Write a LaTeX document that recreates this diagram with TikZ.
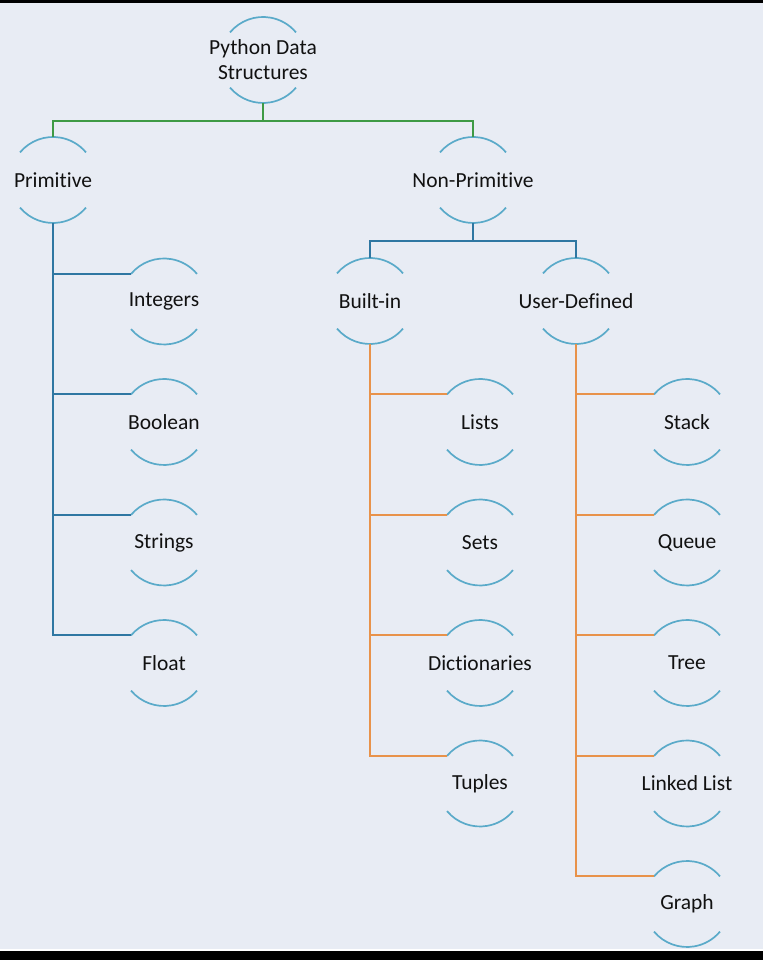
\documentclass[tikz,border=0pt]{standalone}
\usepackage{fontspec}
\setmainfont[Ligatures=NoCommon]{Carlito}
\usetikzlibrary{calc}
\definecolor{bgpanel}{HTML}{E8ECF4}
\definecolor{arcblue}{HTML}{5AAAC9}
\definecolor{linkgreen}{HTML}{3E9A45}
\definecolor{linkblue}{HTML}{2F77A2}
\definecolor{linkorange}{HTML}{E8924A}
\definecolor{labelink}{HTML}{111111}
\tikzset{
  item/.style={inner sep=0pt, text=labelink, font=\fontsize{21.5}{25}\selectfont, align=center},
  arcline/.style={draw=arcblue, line width=1.7pt},
  greenlink/.style={draw=linkgreen, line width=1.8pt},
  bluelink/.style={draw=linkblue, line width=1.8pt},
  orangelink/.style={draw=linkorange, line width=1.8pt},
}
\begin{document}
\begin{tikzpicture}[x=1pt,y=1pt]
% canvas with dark bands at top and bottom
\fill[bgpanel] (0,0) rectangle (763,960);
\fill[black] (0,957) rectangle (763,960);
\fill[white] (0,8.5) rectangle (763,10.5);
\fill[black] (0,0) rectangle (763,8.5);
\useasboundingbox (0,0) rectangle (763,960);

% labels
\node[item] (root) at (263,900) {Python Data\\Structures};
\node[item] (prim) at (53,780) {Primitive};
\node[item] (nonp) at (473,780) {Non-Primitive};
\node[item] (bltn) at (370,659) {Built-in};
\node[item] (user) at (576,659) {User-Defined};

\node[item] (int) at (164,658.5) {Integers};
\node[item] (bool) at (164,538) {Boolean};
\node[item] (str) at (164,417.5) {Strings};
\node[item] (flt) at (164,297) {Float};

\node[item] (lst) at (480,538) {Lists};
\node[item] (sets) at (480,417.5) {Sets};
\node[item] (dict) at (480,297) {Dictionaries};
\node[item] (tup) at (480,176.5) {Tuples};

\node[item] (stk) at (687,538) {Stack};
\node[item] (que) at (687,417.5) {Queue};
\node[item] (tree) at (687,297) {Tree};
\node[item] (llist) at (687,176.5) {Linked List};
\node[item] (grph) at (687,56) {Graph};

% bracket arcs above and below each label
\foreach \n in {root,prim,nonp,bltn,user,int,bool,str,flt,lst,sets,dict,tup,stk,que,tree,llist,grph}{
  \draw[arcline] ($(\n.center)+(140:43)$) arc[start angle=140,end angle=40,radius=43];
  \draw[arcline] ($(\n.center)+(220:43)$) arc[start angle=220,end angle=320,radius=43];
}

% root to the two categories
\coordinate (rootjoin) at ($(root.center)+(0,-61)$);
\draw[greenlink] ($(root.center)+(0,-43)$) -- (rootjoin);
\draw[greenlink] (rootjoin) -| ($(prim.center)+(0,43)$);
\draw[greenlink] (rootjoin) -| ($(nonp.center)+(0,43)$);

% non-primitive split
\coordinate (nonpjoin) at ($(nonp.center)+(0,-61)$);
\draw[bluelink] ($(nonp.center)+(0,-43)$) -- (nonpjoin);
\draw[bluelink] (nonpjoin) -| ($(bltn.center)+(0,43)$);
\draw[bluelink] (nonpjoin) -| ($(user.center)+(0,43)$);

% primitive types
\draw[bluelink] ($(prim.center)+(0,-43)$) |- ($(flt.center)+(140:43)$);
\foreach \n in {int,bool,str}
  \draw[bluelink] (prim.center |- {$(\n.center)+(140:43)$}) -- ($(\n.center)+(140:43)$);

% built-in types
\draw[orangelink] ($(bltn.center)+(0,-43)$) |- ($(tup.center)+(140:43)$);
\foreach \n in {lst,sets,dict}
  \draw[orangelink] (bltn.center |- {$(\n.center)+(140:43)$}) -- ($(\n.center)+(140:43)$);

% user-defined types
\draw[orangelink] ($(user.center)+(0,-43)$) |- ($(grph.center)+(140:43)$);
\foreach \n in {stk,que,tree,llist}
  \draw[orangelink] (user.center |- {$(\n.center)+(140:43)$}) -- ($(\n.center)+(140:43)$);
\end{tikzpicture}
\end{document}
